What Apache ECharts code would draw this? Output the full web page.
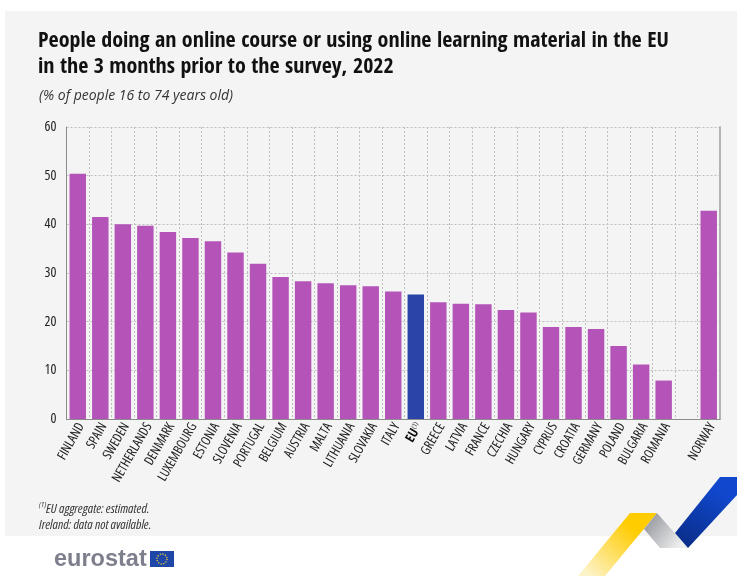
<!DOCTYPE html>
<html>
<head>
<meta charset="utf-8">
<style>html,body{margin:0;padding:0;background:#fff}#main{width:737px;height:576px}</style>
<script src="https://cdn.jsdelivr.net/npm/echarts@6/dist/echarts.min.js"></script>
</head>
<body>
<div id="main"></div>
<script>
const countries = ['FINLAND','SPAIN','SWEDEN','NETHERLANDS','DENMARK','LUXEMBOURG','ESTONIA','SLOVENIA','PORTUGAL','BELGIUM','AUSTRIA','MALTA','LITHUANIA','SLOVAKIA','ITALY','EU','GREECE','LATVIA','FRANCE','CZECHIA','HUNGARY','CYPRUS','CROATIA','GERMANY','POLAND','BULGARIA','ROMANIA','','NORWAY']
const shares = [50.4,41.5,40,39.7,38.4,37.2,36.5,34.2,31.9,29.2,28.3,27.9,27.5,27.3,26.2,25.6,24,23.7,23.6,22.4,21.9,18.9,18.9,18.5,15,11.2,7.9,null,42.8]
const yTicks = {min: 0, max: 60, interval: 10}

const sans = '"Open Sans",sans-serif'
const titleFont = '"Open Sans Condensed",sans-serif'
const PURPLE = '#b454b8'
const EU_BLUE = '#2a44a8'

var myChart = echarts.init(document.getElementById('main'))

function grad(x, y, x2, y2, from, to) {
  return {type: 'linear', x: x, y: y, x2: x2, y2: y2, colorStops: [{offset: 0, color: from}, {offset: 1, color: to}]}
}

var option = {
  animation: false,
  backgroundColor: '#fff',
  grid: {left: 66.5, right: 17, top: 127, bottom: 157},
  xAxis: {
    type: 'category',
    data: countries,
    axisTick: {show: false},
    axisLine: {lineStyle: {color: '#8c8c8c', width: 1}},
    splitLine: {show: true, interval: 0, lineStyle: {type: [2, 2], color: '#bdbdbd'}},
    axisLabel: {
      interval: 0,
      rotate: 60,
      margin: 3,
      padding: [8, 0, 0, 0],
      fontFamily: sans,
      fontStyle: 'condensed',
      fontSize: 13.2,
      color: '#222',
      formatter: function (v) {
        return v === 'EU' ? '{eu|EU}{sup|(1)}' : v
      },
      rich: {
        eu: {fontFamily: sans, fontStyle: 'condensed', fontSize: 13.2, fontWeight: 'bold', color: '#111'},
        sup: {fontFamily: sans, fontStyle: 'condensed', fontSize: 7, color: '#222', verticalAlign: 'top'}
      }
    }
  },
  yAxis: [
    {
      type: 'value',
      min: yTicks.min,
      max: yTicks.max,
      interval: yTicks.interval,
      axisLine: {show: true, lineStyle: {color: '#8c8c8c', width: 1}},
      axisTick: {show: false},
      splitLine: {lineStyle: {type: [2, 2], color: '#bdbdbd'}},
      axisLabel: {margin: 10, fontFamily: sans, fontStyle: 'condensed', fontSize: 14, color: '#222'}
    },
    {
      type: 'value',
      position: 'right',
      min: yTicks.min,
      max: yTicks.max,
      interval: yTicks.interval,
      axisLine: {show: true, lineStyle: {color: '#b4b4b4', width: 2}},
      axisTick: {show: false},
      axisLabel: {show: false},
      splitLine: {show: false}
    }
  ],
  series: [{
    type: 'bar',
    barWidth: '73%',
    data: shares.map((v, i) => ({
      value: v,
      itemStyle: {color: countries[i] === 'EU' ? EU_BLUE : PURPLE}
    })),
    z: 3
  }],
  graphic: [
    // panel behind the chart
    {type: 'rect', z: -10, silent: true, shape: {x: 5, y: 11, width: 732, height: 525}, style: {fill: '#f4f4f4'}},
    // title, subtitle, notes
    {type: 'text', left: 38, top: 30, style: {text: 'People doing an online course or using online learning material in the EU', font: 'bold 22px ' + titleFont, fill: '#111'}},
    {type: 'text', left: 38, top: 56, style: {text: 'in the 3 months prior to the survey, 2022', font: 'bold 22px ' + titleFont, fill: '#111'}},
    {type: 'text', left: 39, top: 89, style: {text: '(% of people 16 to 74 years old)', font: 'italic 14px ' + sans, fill: '#333'}},
    {type: 'text', left: 39, top: 501, style: {text: '(1)', font: 'italic condensed 8px ' + sans, fill: '#333'}},
    {type: 'text', left: 46, top: 503, style: {text: 'EU aggregate: estimated.', font: 'italic condensed 13px ' + sans, fill: '#333'}},
    {type: 'text', left: 39, top: 519, style: {text: 'Ireland: data not available.', font: 'italic condensed 13px ' + sans, fill: '#333'}},
    // logo
    {type: 'text', left: 54, top: 548, style: {text: 'eurostat', font: 'bold 23.5px "Liberation Sans",sans-serif', fill: '#7d7f8c'}},
    {type: 'rect', shape: {x: 150, y: 551, width: 24, height: 16}, style: {fill: '#1f47a8'}},
    {type: 'circle', shape: {cx: 162, cy: 559, r: 5}, style: {fill: 'none', stroke: '#e8c832', lineWidth: 1.4, lineDash: [1.2, 1.4]}},
    // ribbon
    {type: 'polygon', shape: {points: [[630, 513], [657, 513], [605, 576], [578, 576]]},
      style: {fill: grad(0.7, 0.25, 0.15, 1, '#ffcc00', '#fdf3c8')}},
    {type: 'polygon', shape: {points: [[657, 513], [644, 529], [660, 548], [688, 548]]},
      style: {fill: grad(0.1, 0.2, 0.85, 0.9, '#9a9ca2', '#eef0f0')}},
    {type: 'polygon', shape: {points: [[720, 477], [737, 477], [737, 495], [688, 548], [675, 533]]},
      style: {fill: grad(0.7, 0.2, 0.2, 0.95, '#1047cc', '#0a2f8c')}}
  ]
}

option && myChart.setOption(option)
</script>
</body>
</html>
